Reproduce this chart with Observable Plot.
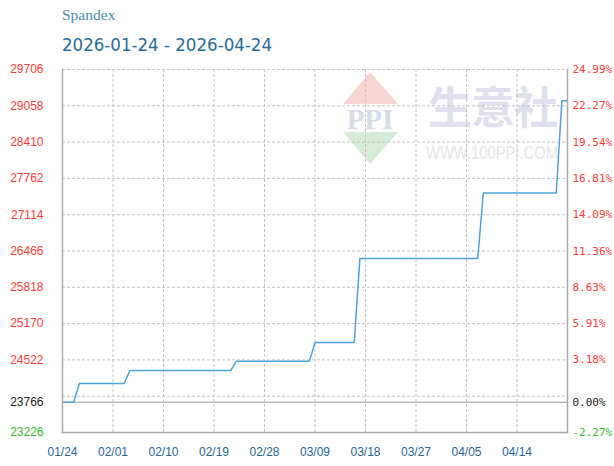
<!DOCTYPE html>
<html>
<head>
<meta charset="utf-8">
<script src="https://cdn.jsdelivr.net/npm/d3@7"></script>
<script src="https://cdn.jsdelivr.net/npm/@observablehq/plot@0.6"></script>
<style>
  html, body { margin: 0; padding: 0; background: #fff; }
  #wrap { position: relative; width: 614px; height: 466px; overflow: hidden; }
  #title { position: absolute; left: 62px; top: 6px; font-family: "Liberation Serif", serif; font-size: 15.5px; color: #4f8ab5; }
  #subtitle { position: absolute; left: 62px; top: 34px; font-family: "Liberation Sans Narrow", "DejaVu Sans Condensed", sans-serif; font-size: 18.5px; color: #2a6b9a; }
  #wm { position: absolute; left: 0; top: 0; z-index: 0; }
  #chart { position: absolute; left: 0; top: 0; z-index: 1; }
</style>
</head>
<body>
<div id="wrap">
  <svg id="wm" width="614" height="466">
    <polygon points="370,72 343,104 398,104" fill="#f7d6d2"/>
    <text x="370" y="129" text-anchor="middle" font-family="Liberation Serif, serif" font-weight="bold" font-size="29" fill="#d6ddeb">PPI</text>
    <polygon points="343,132 398,132 370,164" fill="#d6ecd6"/>
    <text x="428" y="124" font-family="Noto Sans CJK SC, sans-serif" font-weight="bold" font-size="44" textLength="130" lengthAdjust="spacing" fill="#dde2ee">生意社</text>
    <text x="426" y="159" font-family="Liberation Sans Narrow, sans-serif" font-size="15" textLength="132" lengthAdjust="spacingAndGlyphs" transform="translate(426,159) scale(1,1.25) translate(-426,-159)" fill="#e6e6e6">WWW.100PPI.COM</text>
  </svg>
  <div id="chart"></div>
  <div id="title">Spandex</div>
  <div id="subtitle">2026-01-24 - 2026-04-24</div>
</div>
<script>
// Price series: day index (0 = 01/24) and price at change points
const days   = [0, 2, 3, 11, 12, 30, 31, 44, 45, 52, 53, 74, 75, 88, 89, 90];
const prices = [23766, 23766, 24100, 24100, 24333, 24333, 24500, 24500, 24833, 24833, 26333, 26333, 27500, 27500, 29150, 29150];

const basePrice = 23766;
const leftTickValues = [29706, 29058, 28410, 27762, 27114, 26466, 25818, 25170, 24522, 23766, 23226];
const rightTickLabels = ["24.99%", "22.27%", "19.54%", "16.81%", "14.09%", "11.36%", "8.63%", "5.91%", "3.18%", "0.00%", "-2.27%"];
const gridValues = [29706, 29058, 28410, 27762, 27114, 26466, 25818, 25170, 24522, 23874];
const xTickDays = [0, 9, 18, 27, 36, 45, 54, 63, 72, 81];
const xTickLabels = ["01/24", "02/01", "02/10", "02/19", "02/28", "03/09", "03/18", "03/27", "04/05", "04/14"];

const series = days.map((d, i) => ({day: d, price: prices[i]}));
const leftTicks = leftTickValues.map((v, i) => ({v, label: String(v), pct: rightTickLabels[i]}));
const xTicks = xTickDays.map((d, i) => ({d, label: xTickLabels[i]}));
const tickColor = v => v > basePrice ? "#ff3b3b" : v < basePrice ? "#3cb83c" : "#222";

const chart = Plot.plot({
  width: 614,
  height: 466,
  marginLeft: 62,
  marginRight: 47,
  marginTop: 69,
  marginBottom: 34,
  style: {background: "transparent", overflow: "visible"},
  x: {domain: [0, 90], axis: null},
  y: {domain: [23226, 29706], axis: null},
  marks: [
    Plot.ruleY(gridValues, {stroke: "#c4c4c4", strokeDasharray: "3,2", strokeWidth: 1}),
    Plot.ruleX(xTickDays.slice(1), {stroke: "#c4c4c4", strokeDasharray: "3,2", strokeWidth: 1}),
    Plot.ruleY([basePrice], {stroke: "#9a9a9a", strokeWidth: 1.2}),
    Plot.line(series, {x: "day", y: "price", stroke: "#4ea3dc", strokeWidth: 1.5}),
    Plot.frame({anchor: "left", stroke: "#aaa", strokeWidth: 1.5}),
    Plot.frame({anchor: "right", stroke: "#aaa", strokeWidth: 1.5}),
    Plot.frame({anchor: "bottom", stroke: "#aaa", strokeWidth: 1.5}),
    Plot.text(leftTicks, {y: "v", text: "label", frameAnchor: "left", textAnchor: "end", dx: -19,
      fill: d => tickColor(d.v), fontFamily: "Liberation Sans, sans-serif", fontSize: 12}),
    Plot.text(leftTicks, {y: "v", text: "pct", frameAnchor: "right", textAnchor: "start", dx: 5,
      fill: d => tickColor(d.v), fontFamily: "DejaVu Sans Mono, monospace", fontSize: 11}),
    Plot.text(xTicks, {x: "d", text: "label", frameAnchor: "bottom", dy: 23,
      fill: "#2a6496", fontFamily: "Liberation Sans, sans-serif", fontSize: 12})
  ]
});
document.getElementById("chart").appendChild(chart);
</script>
</body>
</html>
